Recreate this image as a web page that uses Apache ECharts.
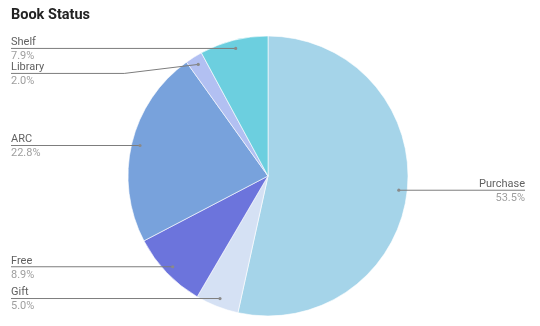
<!DOCTYPE html>
<html><head><meta charset="utf-8">
<script src="https://cdn.jsdelivr.net/npm/echarts@6/dist/echarts.min.js"></script>
<style>html,body{margin:0;padding:0;background:#fff}#c{width:540px;height:326px}</style>
</head><body><div id="c"></div>
<script>
const titleText = 'Book Status';
const categories = ['Purchase', 'Gift', 'Free', 'ARC', 'Library', 'Shelf'];
const values = [53.5, 5.0, 8.9, 22.8, 2.0, 7.9];
const colors = ['#a5d4e9', '#d5e1f4', '#6c74dc', '#78a2dc', '#b2c0f2', '#6ccfdf'];

const CX = 268, CY = 176, R = 140;
const LEFT_EDGE = 11, RIGHT_EDGE = 525, GAP = 25;
const chart = echarts.init(document.getElementById('c'));
const starts = {};
const lineY = {};
const linePts = {};

function recordPass(p) {
  const pt = p.labelLinePoints && p.labelLinePoints[0];
  if (pt) starts[p.dataIndex] = [CX + (pt[0] - CX) * 0.94, CY + (pt[1] - CY) * 0.94];
  return {};
}
function finalPass(p) {
  const s = starts[p.dataIndex];
  if (!s) return {};
  const left = s[0] < CX;
  return {
    x: left ? LEFT_EDGE : RIGHT_EDGE, y: lineY[p.dataIndex],
    align: left ? 'left' : 'right', verticalAlign: 'middle'
  };
}

const data = categories.map((n, i) => ({ name: n, value: values[i], itemStyle: { color: colors[i] } }));

function makeOption(layoutFn, showLine, graphics) {
  return {
    animation: false,
    title: {
      text: titleText, left: 11, top: 8, padding: 0,
      textStyle: { fontFamily: 'Roboto', fontSize: 14.5, fontWeight: 'bold', color: '#222' }
    },
    graphic: graphics || [],
    series: [{
      type: 'pie',
      center: [CX, CY],
      radius: R,
      startAngle: 90,
      clockwise: true,
      avoidLabelOverlap: false,
      itemStyle: { borderColor: '#fff', borderWidth: 0.6 },
      label: {
        show: true, position: 'outside',
        formatter: p => '{n|' + p.name + '}\n{p|' + p.value.toFixed(1) + '%}',
        rich: {
          n: { fontFamily: 'Roboto', fontSize: 11, color: '#616161', lineHeight: 16 },
          p: { fontFamily: 'Roboto', fontSize: 11, color: '#9e9e9e', lineHeight: 12 }
        }
      },
      labelLine: { show: showLine, length: 5, length2: 5 },
      labelLayout: layoutFn,
      emphasis: { disabled: true },
      data: data
    }]
  };
}

chart.setOption(makeOption(recordPass, true));

// resolve label line heights top-down per side
['L', 'R'].forEach(side => {
  const idx = Object.keys(starts).map(Number)
    .filter(i => (starts[i][0] < CX) === (side === 'L'))
    .sort((a, b) => starts[a][1] - starts[b][1]);
  let prev = -Infinity;
  idx.forEach(i => {
    const y = Math.max(starts[i][1], prev + GAP);
    lineY[i] = y; prev = y;
    const s = starts[i];
    const left = side === 'L';
    const ex = left ? LEFT_EDGE : RIGHT_EDGE;
    const mid = Math.abs(y - s[1]) > 0.5 ? [s[0] + (left ? -74 : 74), y] : [s[0], s[1]];
    linePts[i] = [s, mid, [ex, y]];
  });
});

const graphics = [];
Object.keys(starts).forEach(i => {
  graphics.push({
    type: 'polyline', z: 90, silent: true,
    shape: { points: linePts[i] },
    style: { stroke: '#7d7d7d', lineWidth: 1, fill: null }
  });
  graphics.push({
    type: 'circle', z: 100, silent: true,
    shape: { cx: starts[i][0], cy: starts[i][1], r: 1.6 },
    style: { fill: '#8a8a8a' }
  });
});

chart.setOption(makeOption(finalPass, false, graphics));
</script>
</body></html>
